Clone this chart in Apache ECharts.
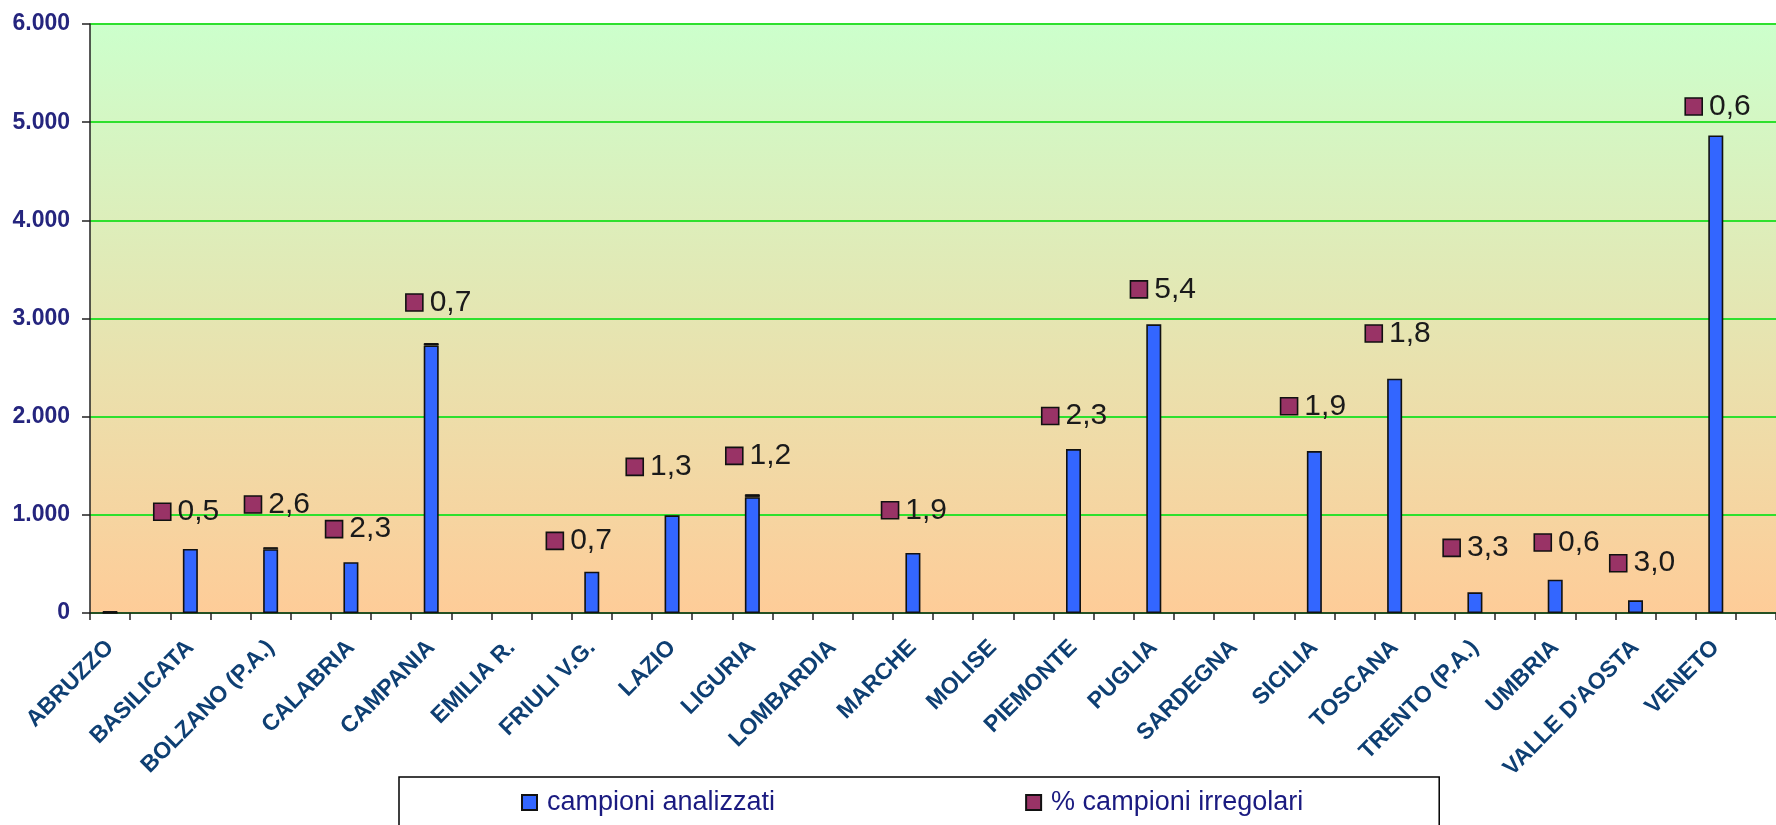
<!DOCTYPE html>
<html lang="it">
<head>
    <meta charset="UTF-8">
    <title>campioni</title>
    <script src="https://cdn.jsdelivr.net/npm/echarts@6/dist/echarts.min.js"></script>
    <style>
        html, body { margin: 0; padding: 0; background: #fff; }
        #chart { width: 1776px; height: 825px; }
    </style>
</head>
<body>
<div id="chart"></div>
<script>
    // regioni (una categoria ogni due slot, lo slot dispari resta vuoto)
    var regioni = ['ABRUZZO', 'BASILICATA', 'BOLZANO (P.A.)', 'CALABRIA', 'CAMPANIA', 'EMILIA R.',
        'FRIULI V.G.', 'LAZIO', 'LIGURIA', 'LOMBARDIA', 'MARCHE', 'MOLISE', 'PIEMONTE', 'PUGLIA',
        'SARDEGNA', 'SICILIA', 'TOSCANA', 'TRENTO (P.A.)', 'UMBRIA', "VALLE D'AOSTA", 'VENETO'];

    // campioni analizzati (parte blu)
    var campioni = [0, 653, 650, 517, 2725, null, 420, 995, 1180, null, 611, null,
        1670, 2941, null, 1650, 2387, 211, 339, 129, 4864];

    // piccola parte scura in cima ad alcune barre
    var capNeri = [20, null, 20, null, 25, null, null, null, 30, null, null, null,
        null, null, null, null, null, null, null, null, null];

    // % campioni irregolari
    var percIrregolari = [null, 0.5, 2.6, 2.3, 0.7, null, 0.7, 1.3, 1.2, null, 1.9, null,
        2.3, 5.4, null, 1.9, 1.8, 3.3, 0.6, 3.0, 0.6];

    // altezza dei quadratini (scala campioni) e loro posizione in slot
    var markerY = [null, 1031, 1105, 854, 3163, null, 735, 1489, 1601, null, 1046, null,
        2007, 3297, null, 2106, 2847, 663, 718, 507, 5160];
    var markerX = [null, 1.8, 4.06, 6.08, 8.08, null, 11.58, 13.57, 16.05, null, 19.93, null,
        23.92, 26.13, null, 29.87, 31.98, 33.92, 36.19, 38.07, 39.95];

    var yMax = 6000, yStep = 1000;

    // 42 slot: regione, vuoto, regione, vuoto...
    var slots = [], barData = [], capData = [];
    regioni.forEach(function (r, i) {
        slots.push(r, ' ' + i);
        barData.push(campioni[i], null);
        capData.push(capNeri[i], null);
    });

    var scatterData = [];
    percIrregolari.forEach(function (p, i) {
        if (p === null) return;
        scatterData.push({
            value: [markerX[i], markerY[i]],
            label: { formatter: p.toFixed(1).replace('.', ',') }
        });
    });

    var font = "'Liberation Sans', Arial, sans-serif";
    var myChart = echarts.init(document.getElementById('chart'));

    var option = {
        animation: false,
        grid: {
            left: 90, top: 24, right: -8, bottom: 212,
            show: true,
            borderWidth: 0,
            backgroundColor: new echarts.graphic.LinearGradient(0, 0, 0, 1, [
                {offset: 0, color: '#ccffcc'},
                {offset: 1, color: '#fecc98'}
            ])
        },
        legend: {
            left: 399, top: 777,
            padding: [12, 136, 22, 122],
            itemGap: 250,
            itemWidth: 15, itemHeight: 15,
            borderColor: '#000', borderWidth: 1.5,
            backgroundColor: '#fff',
            data: [
                {name: 'campioni analizzati', icon: 'rect'},
                {name: '% campioni irregolari', icon: 'rect'}
            ],
            textStyle: { fontFamily: font, fontSize: 27, color: '#1a1a80', padding: [0, 0, 0, 5] }
        },
        xAxis: [{
            type: 'category',
            data: slots,
            axisLine: { lineStyle: { color: '#222', width: 1.5 } },
            axisTick: { show: true, interval: 0, length: 7, lineStyle: { color: '#222', width: 1.5 } },
            axisLabel: {
                interval: 0,
                rotate: 45,
                margin: 31,
                fontFamily: font,
                fontWeight: 'bold',
                fontSize: 23,
                color: '#0e3f73',
                formatter: function (v) { return v.charAt(0) === ' ' ? '' : v; }
            }
        }, {
            type: 'value',
            min: 0, max: slots.length,
            show: false
        }],
        yAxis: {
            type: 'value',
            min: 0, max: yMax, interval: yStep,
            axisLine: { show: true, lineStyle: { color: '#222', width: 1.5 } },
            axisTick: { show: true, length: 8, lineStyle: { color: '#222', width: 1.5 } },
            splitLine: { lineStyle: { color: '#2ee02e', width: 2 } },
            axisLabel: {
                margin: 20,
                fontFamily: font,
                fontWeight: 'bold',
                fontSize: 23,
                color: '#25257e',
                formatter: function (v) { return v === 0 ? '0' : (v / 1000) + '.000'; }
            }
        },
        series: [{
            name: 'campioni analizzati',
            type: 'bar',
            stack: 'tot',
            barWidth: 15,
            data: barData,
            itemStyle: { color: '#3366ff', borderColor: '#111', borderWidth: 1.6 }
        }, {
            name: 'neri',
            type: 'bar',
            stack: 'tot',
            barWidth: 15,
            data: capData,
            itemStyle: { color: '#111', borderColor: '#111', borderWidth: 1 }
        }, {
            name: '% campioni irregolari',
            type: 'scatter',
            xAxisIndex: 1,
            symbol: 'rect',
            symbolSize: 17,
            data: scatterData,
            itemStyle: { color: '#993366', borderColor: '#111', borderWidth: 1.6, opacity: 1 },
            label: {
                show: true,
                position: 'right',
                distance: 6,
                fontFamily: font,
                fontSize: 30,
                color: '#1a1a1a'
            }
        }]
    };

    myChart.setOption(option);
</script>
</body>
</html>
